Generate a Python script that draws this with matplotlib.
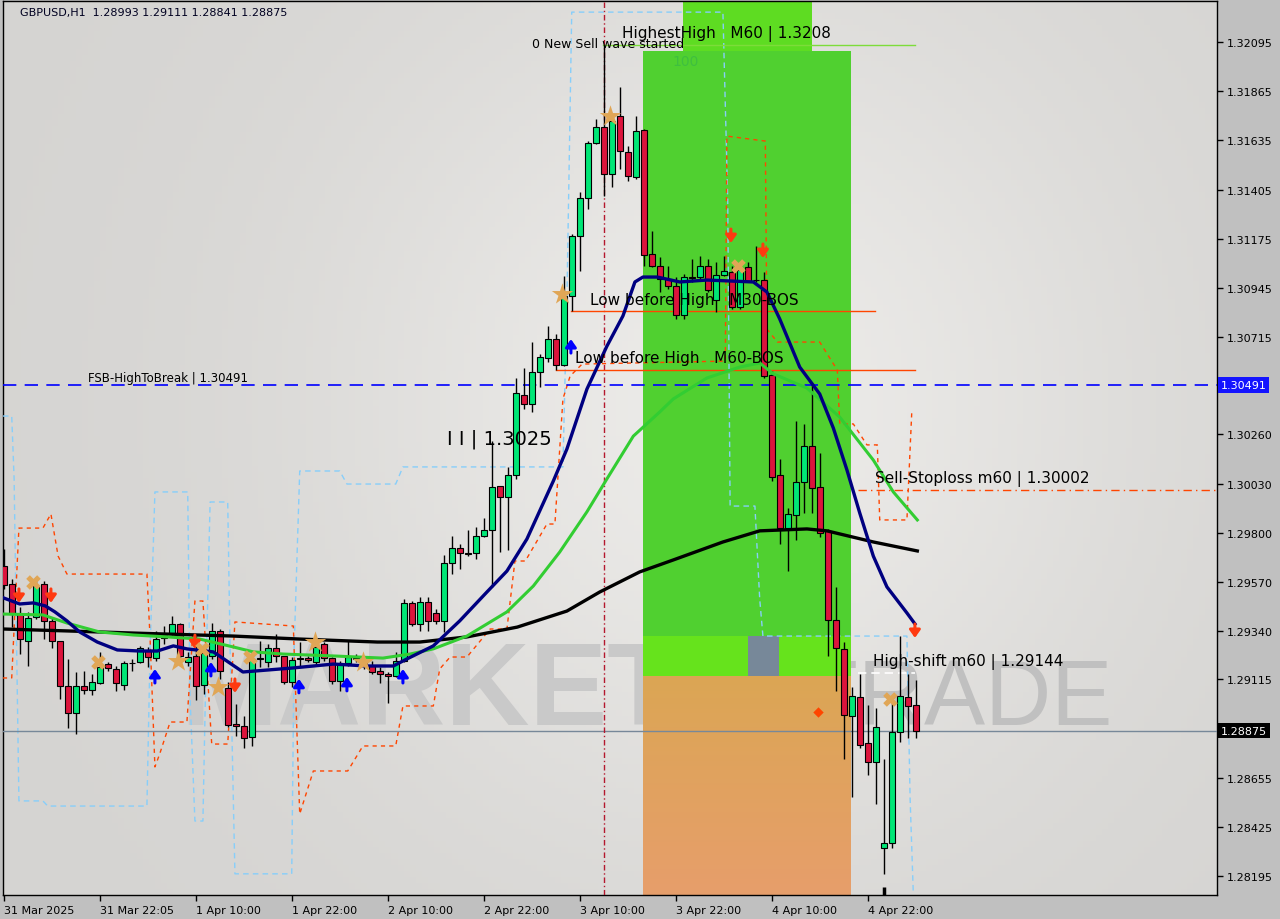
import numpy as np
import matplotlib
matplotlib.use("Agg")
import matplotlib.pyplot as plt
from matplotlib.transforms import offset_copy

# GBPUSD H1 candles, first bar = 31 Mar 10:00
opens = [1.29645, 1.29561, 1.29420, 1.29294, 1.29406, 1.29561, 1.29388, 1.29294, 1.29084, 1.28957,
         1.29084, 1.29065, 1.29098, 1.29186, 1.29163, 1.29088, 1.29191, 1.29196, 1.29247, 1.29214,
         1.29308, 1.29331, 1.29373, 1.29196, 1.29224, 1.29088, 1.29224, 1.29341, 1.29074, 1.28906,
         1.28897, 1.28845, 1.29214, 1.29196, 1.29261, 1.29224, 1.29102, 1.29210, 1.29214, 1.29196,
         1.29280, 1.29214, 1.29107, 1.29191, 1.29214, 1.29200, 1.29177, 1.29154, 1.29140, 1.29130,
         1.29200, 1.29472, 1.29373, 1.29477, 1.29425, 1.29388, 1.29659, 1.29729, 1.29705, 1.29705,
         1.29785, 1.29813, 1.30019, 1.29967, 1.30070, 1.30444, 1.30402, 1.30552, 1.30617, 1.30706,
         1.30585, 1.30907, 1.31188, 1.31365, 1.31623, 1.31697, 1.31478, 1.31749, 1.31581, 1.31464,
         1.31684, 1.31104, 1.31048, 1.30987, 1.30954, 1.30819, 1.30994, 1.30996, 1.31048, 1.30889,
         1.31006, 1.31020, 1.30856, 1.31043, 1.30982, 1.30982, 1.30538, 1.30070, 1.29823, 1.29883,
         1.30038, 1.30206, 1.30014, 1.29809, 1.29393, 1.29257, 1.28943, 1.29032, 1.28817, 1.28728,
         1.28326, 1.28350, 1.28869, 1.29032, 1.28993]
highs = [1.29724, 1.29584, 1.29453, 1.29430, 1.29593, 1.29575, 1.29402, 1.29294, 1.29210, 1.29149,
         1.29154, 1.29140, 1.29243, 1.29196, 1.29177, 1.29200, 1.29210, 1.29271, 1.29266, 1.29341,
         1.29364, 1.29411, 1.29378, 1.29243, 1.29317, 1.29257, 1.29378, 1.29350, 1.29102, 1.29000,
         1.28943, 1.29243, 1.29294, 1.29280, 1.29327, 1.29224, 1.29219, 1.29289, 1.29224, 1.29294,
         1.29289, 1.29219, 1.29200, 1.29299, 1.29233, 1.29224, 1.29200, 1.29172, 1.29149, 1.29243,
         1.29490, 1.29481, 1.29500, 1.29500, 1.29444, 1.29696, 1.29785, 1.29748, 1.29813, 1.29827,
         1.29869, 1.30229, 1.30019, 1.30108, 1.30524, 1.30570, 1.30692, 1.30636, 1.30767, 1.30730,
         1.31001, 1.31197, 1.31393, 1.31632, 1.31735, 1.32081, 1.31749, 1.31885, 1.31609, 1.31749,
         1.31688, 1.31211, 1.31090, 1.31048, 1.30996, 1.31010, 1.31080, 1.31094, 1.31080, 1.31066,
         1.31094, 1.31048, 1.31066, 1.31066, 1.31141, 1.31020, 1.30557, 1.30145, 1.29916, 1.30323,
         1.30309, 1.30491, 1.30173, 1.29818, 1.29547, 1.29289, 1.29079, 1.29140, 1.28995, 1.28981,
         1.28742, 1.29037, 1.29318, 1.29140, 1.29111]
lows = [1.29537, 1.29359, 1.29233, 1.29177, 1.29397, 1.29303, 1.29261, 1.29023, 1.28887, 1.28859,
        1.29046, 1.29042, 1.29093, 1.29154, 1.29060, 1.29065, 1.29154, 1.29191, 1.29172, 1.29200,
        1.29280, 1.29317, 1.29200, 1.29177, 1.29018, 1.29046, 1.29210, 1.29116, 1.28892, 1.28850,
        1.28794, 1.28803, 1.29172, 1.29172, 1.29196, 1.29093, 1.29079, 1.29177, 1.29196, 1.29177,
        1.29200, 1.29093, 1.29060, 1.29177, 1.29196, 1.29163, 1.29140, 1.29098, 1.29004, 1.29126,
        1.29196, 1.29364, 1.29341, 1.29341, 1.29373, 1.29336, 1.29607, 1.29631, 1.29691, 1.29677,
        1.29781, 1.29547, 1.29710, 1.29719, 1.30052, 1.30379, 1.30365, 1.30482, 1.30599, 1.30561,
        1.30580, 1.30837, 1.31024, 1.31314, 1.31618, 1.31375, 1.31417, 1.31501, 1.31445, 1.31454,
        1.31048, 1.31043, 1.30926, 1.30940, 1.30800, 1.30800, 1.30973, 1.30987, 1.30926, 1.30833,
        1.31001, 1.30847, 1.30847, 1.30973, 1.30973, 1.30524, 1.30042, 1.29748, 1.29621, 1.29767,
        1.29893, 1.29893, 1.29781, 1.29224, 1.29060, 1.28742, 1.28564, 1.28794, 1.28668, 1.28532,
        1.28205, 1.28326, 1.28822, 1.28840, 1.28841]
closes = [1.29556, 1.29420, 1.29303, 1.29402, 1.29551, 1.29388, 1.29294, 1.29084, 1.28957, 1.29084,
          1.29065, 1.29102, 1.29172, 1.29168, 1.29098, 1.29191, 1.29189, 1.29261, 1.29219, 1.29303,
          1.29322, 1.29373, 1.29224, 1.29219, 1.29084, 1.29238, 1.29341, 1.29154, 1.28901, 1.28897,
          1.28841, 1.29210, 1.29212, 1.29261, 1.29224, 1.29102, 1.29205, 1.29214, 1.29205, 1.29266,
          1.29214, 1.29107, 1.29191, 1.29219, 1.29212, 1.29177, 1.29149, 1.29140, 1.29130, 1.29200,
          1.29472, 1.29373, 1.29477, 1.29388, 1.29388, 1.29659, 1.29729, 1.29705, 1.29701, 1.29785,
          1.29813, 1.30014, 1.29967, 1.30070, 1.30454, 1.30402, 1.30552, 1.30622, 1.30706, 1.30585,
          1.30907, 1.31188, 1.31365, 1.31623, 1.31697, 1.31478, 1.31726, 1.31585, 1.31469, 1.31679,
          1.31099, 1.31048, 1.30987, 1.30954, 1.30819, 1.30996, 1.30992, 1.31048, 1.30935, 1.31006,
          1.31024, 1.30856, 1.31029, 1.30978, 1.30980, 1.30533, 1.30061, 1.29823, 1.29888, 1.30038,
          1.30206, 1.30010, 1.29799, 1.29393, 1.29261, 1.28948, 1.29037, 1.28808, 1.28728, 1.28892,
          1.28349, 1.28869, 1.29037, 1.28990, 1.28875]

# moving averages (bar index, price)
ma_navy_x = [0.0, 2.0, 3.7, 5.2, 6.4, 7.9, 9.5, 11.7, 14.2, 17.0, 19.2, 21.2, 22.9, 26.2, 27.9, 29.9,
             32.9, 36.2, 41.2, 45.4, 48.7, 50.4, 53.7, 57.0, 60.4, 62.9, 65.4, 68.7, 70.4, 72.9, 75.4,
             77.4, 78.9, 79.9, 81.7, 84.5, 87.9, 93.7, 95.4, 97.0, 99.5, 102.0, 103.7, 105.4, 107.0,
             108.7, 110.4, 112.9, 113.9]
ma_navy_y = [1.29495, 1.29467, 1.29472, 1.29458, 1.29430, 1.29388, 1.29336, 1.29289, 1.29252, 1.29247,
             1.29247, 1.29271, 1.29257, 1.29243, 1.29200, 1.29149, 1.29158, 1.29168, 1.29186, 1.29177,
             1.29177, 1.29210, 1.29271, 1.29388, 1.29523, 1.29621, 1.29771, 1.30042, 1.30192, 1.30472,
             1.30673, 1.30814, 1.30973, 1.30996, 1.30996, 1.30973, 1.30982, 1.30973, 1.30926, 1.30800,
             1.30575, 1.30449, 1.30290, 1.30094, 1.29893, 1.29691, 1.29547, 1.29425, 1.29374]
ma_green_x = [-0.1, 4.9, 7.9, 12.0, 16.2, 20.4, 24.5, 28.7, 31.2, 34.9, 41.2, 47.4, 50.8, 53.7, 57.9,
              62.9, 66.2, 69.5, 72.9, 75.4, 78.7, 82.0, 83.7, 87.9, 92.0, 94.5, 96.2, 100.4, 104.5,
              108.7, 111.2, 114.2]
ma_green_y = [1.29420, 1.29416, 1.29378, 1.29336, 1.29322, 1.29313, 1.29303, 1.29266, 1.29243, 1.29233,
              1.29224, 1.29214, 1.29233, 1.29257, 1.29317, 1.29430, 1.29551, 1.29710, 1.29898, 1.30052,
              1.30252, 1.30365, 1.30426, 1.30524, 1.30575, 1.30594, 1.30543, 1.30477, 1.30341, 1.30140,
              1.29991, 1.29860]
ma_black_x = [-0.1, 7.9, 16.2, 28.7, 37.0, 46.7, 52.0, 57.9, 64.2, 70.4, 74.5, 79.5, 83.7, 89.9, 94.5,
              100.4, 102.9, 108.7, 114.2]
ma_black_y = [1.29350, 1.29341, 1.29331, 1.29317, 1.29303, 1.29289, 1.29289, 1.29313, 1.29359, 1.29434,
              1.29523, 1.29617, 1.29673, 1.29757, 1.29809, 1.29818, 1.29809, 1.29757, 1.29715]

# step channels (light blue and orange dashed)
blue_ch_x = [-0.1, 1.0, 1.3, 1.9, 4.9, 5.5, 17.9, 18.3, 18.9, 23.0, 23.3, 23.9, 24.9, 25.2, 25.8, 28.0,
             28.3, 28.9, 36.0, 36.3, 37.0, 42.0, 42.9, 49.0, 49.9, 69.9, 70.4, 71.0, 89.9, 90.5, 90.8,
             93.9, 94.5, 94.9, 112.9, 113.3, 113.7]
blue_ch_y = [1.30346, 1.30346, 1.30052, 1.28546, 1.28546, 1.28522, 1.28522, 1.29257, 1.29991, 1.29991,
             1.29023, 1.28452, 1.28452, 1.29023, 1.29944, 1.29944, 1.29257, 1.28205, 1.28205, 1.29257,
             1.30089, 1.30089, 1.30028, 1.30028, 1.30108, 1.30108, 1.30893, 1.32235, 1.32235, 1.31361,
             1.29925, 1.29925, 1.29490, 1.29317, 1.29317, 1.28555, 1.28111]
red_ch_x = [-0.1, 1.0, 1.9, 4.9, 5.9, 6.8, 7.9, 17.9, 18.3, 18.9, 19.5, 20.8, 22.9, 23.9, 24.9, 26.0,
            28.0, 28.9, 36.2, 37.0, 38.7, 43.0, 44.9, 49.0, 49.9, 53.7, 54.5, 55.8, 57.9, 60.8, 62.9,
            63.9, 65.2, 67.9, 68.9, 69.9, 70.8, 72.3, 90.2, 90.4, 95.2, 95.4, 96.7, 102.0, 104.2,
            104.5, 106.2, 107.9, 109.2, 109.5, 112.9, 113.5]
red_ch_y = [1.29121, 1.29121, 1.29822, 1.29822, 1.29888, 1.29691, 1.29607, 1.29607, 1.29303, 1.28705,
            1.28766, 1.28915, 1.28915, 1.29481, 1.29481, 1.28812, 1.28812, 1.29383, 1.29364, 1.28485,
            1.28686, 1.28686, 1.28803, 1.28803, 1.28990, 1.28990, 1.29163, 1.29219, 1.29219, 1.29350,
            1.29350, 1.29668, 1.29668, 1.29841, 1.29841, 1.30426, 1.30533, 1.30589, 1.30603, 1.31655,
            1.31632, 1.30753, 1.30692, 1.30692, 1.30561, 1.30309, 1.30309, 1.30211, 1.30211, 1.29860,
            1.29860, 1.30360]

# signal markers (bar, price)
buy_arrows_x = [18.9, 25.9, 36.9, 42.9, 49.9, 70.9]
buy_arrows_y = [1.29130, 1.29163, 1.29084, 1.29093, 1.29130, 1.30673]
sell_arrows_x = [1.9, 5.9, 23.9, 28.9, 90.9, 94.9, 113.9]
sell_arrows_y = [1.29505, 1.29505, 1.29289, 1.29084, 1.31188, 1.31118, 1.29341]
stars_x = [21.8, 26.8, 38.9, 44.9, 69.8, 75.8]
stars_y = [1.29200, 1.29079, 1.29289, 1.29196, 1.30917, 1.31749]
crosses_x = [3.7, 11.8, 24.8, 30.8, 91.8, 110.8]
crosses_y = [1.29570, 1.29196, 1.29257, 1.29219, 1.31048, 1.29023]

# levels
fsb_level = 1.30491
last_price = 1.28875
highest_high = 1.3208
bos_m30 = 1.30837
bos_m60 = 1.30561
sell_stop = 1.30002
high_shift = 1.29144

# supply/demand zone
zone_x = [79.9, 105.9]
zone_top_x = [84.9, 101.0]
zone_levels = [1.32287, 1.32053, 1.29317, 1.29130, 1.28106]
gray_box_x = [93.0, 96.9]

yticks = [1.32095, 1.31865, 1.31635, 1.31405, 1.31175, 1.30945, 1.30715, 1.30260, 1.30030,
          1.29800, 1.29570, 1.29340, 1.29115, 1.28655, 1.28425, 1.28195]
xtick_pos = [0, 12, 24, 36, 48, 60, 72, 84, 96, 108]
xtick_lbl = ["31 Mar 2025", "31 Mar 22:05", "1 Apr 10:00", "1 Apr 22:00", "2 Apr 10:00",
             "2 Apr 22:00", "3 Apr 10:00", "3 Apr 22:00", "4 Apr 10:00", "4 Apr 22:00"]

XMIN, XMAX = -0.09, 151.66
YMIN, YMAX = 1.28106, 1.32287

fig = plt.figure(figsize=(12.8, 9.2), dpi=100, facecolor="#c0c0c0")
ax = fig.add_axes([3 / 1280, 24 / 920, 1214 / 1280, 894 / 920])

# background gradient
gx, gy = np.meshgrid(np.linspace(0, 1, 200), np.linspace(1, 0, 150))
v = 0.835 + 0.09 * np.exp(-((gx - 0.6) ** 2 / 0.12 + (gy - 0.55) ** 2 / 0.25))
bg = np.dstack([v, v * 0.995, v * 0.985])
ax.imshow(bg, extent=[0, 1, 0, 1], transform=ax.transAxes, aspect="auto", zorder=0)

# watermark
ax.text(0.146, 0.191, "MARKETZI", transform=ax.transAxes, fontsize=84, fontweight="bold",
        family="Liberation Sans", color="#c9c9c9", ha="left", va="baseline", zorder=1)
ax.text(0.658, 0.191, "TRADE", transform=ax.transAxes, fontsize=66,
        family="Liberation Sans", color="#c0c0c0", ha="left", va="baseline", zorder=1)

# zone
ax.fill_between(zone_top_x, zone_levels[1], zone_levels[0], color="#5edc22", lw=0, zorder=2)
ax.fill_between(zone_x, zone_levels[2], zone_levels[1], color="#50d030", lw=0, zorder=2)
ax.fill_between(zone_x, zone_levels[3], zone_levels[2], color="#66e31c", lw=0, zorder=2)
og = np.linspace(0, 1, 100)[:, None]
orange = np.dstack([0.86 + 0.045 * og, 0.65 - 0.03 * og, 0.33 + 0.09 * og])
ax.imshow(orange, extent=[zone_x[0], zone_x[1], zone_levels[4], zone_levels[3]],
          aspect="auto", zorder=2)
ax.fill_between(gray_box_x, zone_levels[3], zone_levels[2], color="#778899", lw=0, zorder=2.5)
ax.text(85.2, 1.32006, "100", color="#3fbf3f", fontsize=10, ha="center", va="center", zorder=3)

# channels
ax.plot(blue_ch_x, blue_ch_y, color="#87cefa", lw=1, ls=(0, (4, 3)), zorder=3)
ax.plot(red_ch_x, red_ch_y, color="#ff4500", lw=1, ls=(0, (3, 3)), zorder=3)

# level lines
ax.axhline(fsb_level, color="#0000ff", lw=1.2, ls=(0, (8, 5)), zorder=3)
ax.axhline(last_price, color="#778899", lw=1, zorder=3)
ax.axvline(75, color="#b4182e", lw=1, ls=(0, (4, 2, 1, 2)), zorder=3)
ax.plot([74.9, 113.9], [highest_high, highest_high], color="#7ddc3a", lw=1, zorder=3)
ax.plot([70.9, 108.9], [bos_m30, bos_m30], color="#ff4500", lw=1, zorder=3)
ax.plot([69.0, 113.9], [bos_m60, bos_m60], color="#ff4500", lw=1, zorder=3)
ax.plot([106.8, XMAX], [sell_stop, sell_stop], color="#ff4500", lw=1, ls=(0, (6, 3, 1, 3)), zorder=3)
ax.plot([106.8, 113.9], [high_shift, high_shift], color="white", lw=1.2, ls=(0, (5, 3)), zorder=3)

# candles
idx = np.arange(len(opens))
o, h, l, c = map(np.array, (opens, highs, lows, closes))
cols = np.where(c >= o, "#00e676", "#dc143c")
ax.vlines(idx, l, h, color="black", lw=1, zorder=5)
ax.bar(idx, np.maximum(np.abs(c - o), 0.00003), 0.72, bottom=np.minimum(o, c),
       color=cols, edgecolor="black", lw=0.8, zorder=6)
ax.vlines([110], YMIN, 1.28144, color="black", lw=2.5, zorder=5)

# moving averages
ax.plot(ma_black_x, ma_black_y, color="black", lw=2.4, zorder=7)
ax.plot(ma_green_x, ma_green_y, color="#32cd32", lw=2.2, zorder=7)
ax.plot(ma_navy_x, ma_navy_y, color="#000080", lw=2.4, zorder=7)

# signals: thick arrows drawn around each point
head = offset_copy(ax.transData, fig=fig, x=0, y=5, units="points")
tail = offset_copy(ax.transData, fig=fig, x=0, y=-5, units="points")
astyle = "-|>,head_width=0.32,head_length=0.45"
for x, y in zip(buy_arrows_x, buy_arrows_y):
    ax.annotate("", xy=(x, y), xycoords=head, xytext=(x, y), textcoords=tail, zorder=8,
                arrowprops=dict(arrowstyle=astyle, color="#0000ff", lw=2.2, shrinkA=0, shrinkB=0))
for x, y in zip(sell_arrows_x, sell_arrows_y):
    ax.annotate("", xy=(x, y), xycoords=tail, xytext=(x, y), textcoords=head, zorder=8,
                arrowprops=dict(arrowstyle=astyle, color="#ff3a10", lw=2.2, shrinkA=0, shrinkB=0))
ax.scatter(stars_x, stars_y, marker="*", s=260, color="#e0a656", lw=0, zorder=8)
ax.scatter(crosses_x, crosses_y, marker="X", s=110, color="#e0a656", lw=0, zorder=8)
ax.scatter([101.8], [1.28964], marker="D", s=28, color="#ff4500", lw=0, zorder=8)

# labels
txt = dict(color="black", ha="left", va="center", zorder=9)
ax.text(66.0, 1.32090, "0 New Sell wave started", fontsize=9, **txt)
ax.text(77.3, 1.32137, "HighestHigh   M60 | 1.3208", fontsize=11, **txt)
ax.text(73.3, 1.30893, "Low before High   M30-BOS", fontsize=11, **txt)
ax.text(71.4, 1.30622, "Low before High   M60-BOS", fontsize=11, **txt)
ax.text(10.5, 1.30524, "FSB-HighToBreak | 1.30491", fontsize=8.5, **txt)
ax.text(55.4, 1.30243, "I I | 1.3025", fontsize=14, **txt)
ax.text(108.9, 1.30057, "Sell-Stoploss m60 | 1.30002", fontsize=11, **txt)
ax.text(108.7, 1.29201, "High-shift m60 | 1.29144", fontsize=11, **txt)
ax.text(0.014, 0.988, "GBPUSD,H1  1.28993 1.29111 1.28841 1.28875", transform=ax.transAxes,
        fontsize=8, color="#000020", ha="left", va="center", zorder=9)

# axes
ax.set_xlim(XMIN, XMAX)
ax.set_ylim(YMIN, YMAX)
ax.yaxis.tick_right()
ax.set_yticks(yticks)
ax.set_yticklabels([f"{t:.5f}" for t in yticks])
ax.set_xticks(xtick_pos)
ax.set_xticklabels(xtick_lbl, ha="left")
ax.tick_params(axis="both", length=4, width=1, labelsize=8, colors="black", pad=3)
for s in ax.spines.values():
    s.set_color("black")
    s.set_linewidth(1)

ytr = ax.get_yaxis_transform()
ax.text(1.003, fsb_level, f"{fsb_level:.5f}", transform=ytr, fontsize=8, color="white",
        ha="left", va="center", clip_on=False, zorder=10,
        bbox=dict(boxstyle="square,pad=0.25", fc="#1414ff", ec="none"))
ax.text(1.003, last_price, f"{last_price:.5f}", transform=ytr, fontsize=8, color="white",
        ha="left", va="center", clip_on=False, zorder=10,
        bbox=dict(boxstyle="square,pad=0.25", fc="black", ec="none"))

fig.savefig("out.png", dpi=100, facecolor=fig.get_facecolor())
